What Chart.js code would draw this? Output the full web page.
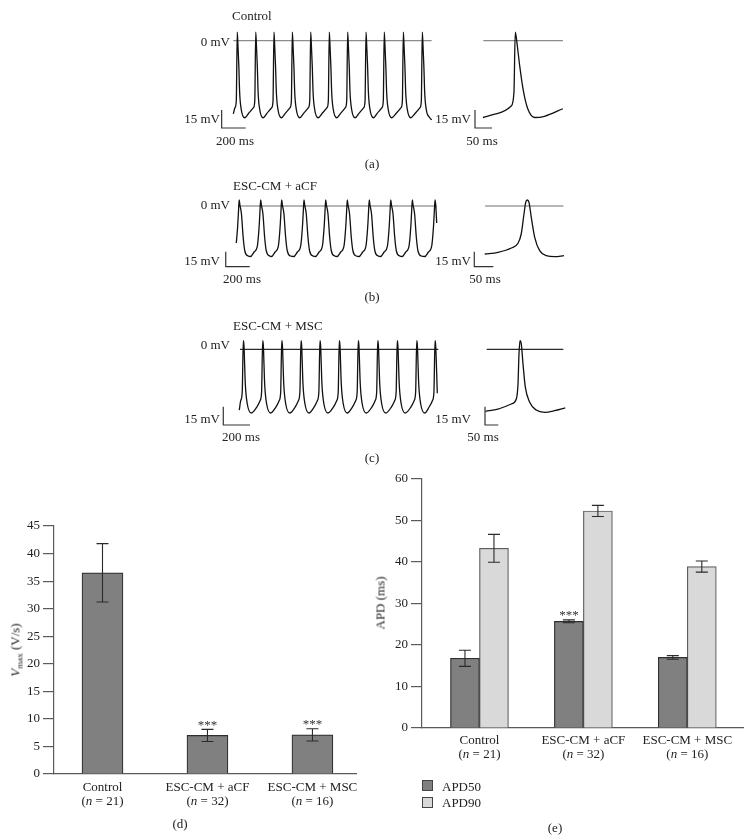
<!DOCTYPE html>
<html lang="en">
<head>
<meta charset="UTF-8">
<title>Action potentials, Vmax and APD</title>
<script src="https://cdn.jsdelivr.net/npm/chart.js"></script>
<style>
  body { margin: 0; background: #fff; }
  #fig { position: relative; width: 750px; height: 840px; overflow: hidden;
         font-family: "Liberation Serif", "DejaVu Serif", serif; color: #222; }
  #fig canvas { position: absolute; }
  .lab { position: absolute; font-size: 13px; line-height: 1; white-space: nowrap; }
  .key { position: absolute; width: 11px; height: 11px; box-sizing: border-box; border: 1px solid #444; }
</style>
</head>
<body>
<div id="fig"></div>
<script>
// ---- traces: beat shapes (ms from peak, mV) ----
const ctrlTrainMs = [-59, -19, -8, 0, 6, 13, 20, 33, 62];
const ctrlTrainMv = [-60.5, -55.8, -50, 7.2, -4.4, -21, -43.3, -57.2, -64.2];
const ctrlPeaks = [33, 187, 339, 492, 645, 800, 953, 1106, 1258, 1417, 1575];
const ctrlEnds = [[0, -61], [1653, -66]];
const ctrlInsetMs = [-95, -51, -12, -4, 0, 6, 13, 23, 37, 57, 86, 140];
const ctrlInsetMv = [-64, -60.5, -54.4, -43.3, 7.2, -4.4, -21, -40.5, -57, -64, -63, -56.7];

const acfTrainMs = [-85, -55, -27.5, -13, -6, 0, 6, 19, 33, 47, 75];
const acfTrainMv = [-50.5, -46, -40, -21, -6, 6, 1, -8, -31, -45, -50];
const acfPeaks = [24, 203, 378, 564, 745, 925, 1108, 1287, 1467, 1656];
const acfEnds = [[0, -37], [1670, -17]];
const acfInsetMs = [-112, -77, -42, -24.5, -16, -8.7, -4.2, 0, 4.5, 10.5, 19.5, 32.6, 50, 72, 96.6];
const acfInsetMv = [-48, -46.3, -42, -37.3, -28, -8, 3.7, 6, 3.7, -11.3, -31.3, -44.7, -49.7, -50.7, -49.7];

const mscTrainMs = [-45, -19.5, -8, 0, 5, 15, 30, 60];
const mscTrainMv = [-47.5, -42.1, -35, 7, 3, -28.4, -44.8, -52.2];
const mscPeaks = [30, 175, 318, 462, 604, 749, 891, 1037, 1183, 1329, 1466];
const mscEnds = [[0, -49.8], [1483, -36]];
const mscInsetMs = [-130, -83, -33, -14, -7.5, -3.8, 0, 4.9, 11.3, 20, 36.5, 61, 93, 130, 170];
const mscInsetMv = [-50.8, -49, -44.8, -40.7, -28.4, -3.9, 7, 4.3, -12, -31, -43.4, -49.8, -51.6, -50.3, -48];

// calibration bars
const barMv = 15;
const trainBarMs = 200;
const insetBarMs = 50;

// ---- bar charts ----
const groups = ['Control', 'ESC-CM + aCF', 'ESC-CM + MSC'];
const groupN = [21, 32, 16];
const vmax = [36.5, 7.0, 7.1];
const vmaxErr = [5.3, 1.1, 1.1];
const vmaxStars = ['', '***', '***'];
const vmaxTicks = [0, 5, 10, 15, 20, 25, 30, 35, 40, 45];
const apd50 = [16.8, 25.7, 17.0];
const apd50Err = [1.95, 0.35, 0.45];
const apd50Stars = ['', '***', ''];
const apd90 = [43.3, 52.3, 38.9];
const apd90Err = [3.35, 1.35, 1.35];
const apdTicks = [0, 10, 20, 30, 40, 50, 60];

Chart.defaults.font.family = '"Liberation Serif", "DejaVu Serif", serif';
const fig = document.getElementById('fig');

function addCanvas(b) {
  const c = document.createElement('canvas');
  c.width = b.w; c.height = b.h;
  c.style.left = b.x + 'px'; c.style.top = b.y + 'px';
  fig.appendChild(c);
  return c;
}

function buildTrain(peaks, beatMs, beatMv, ends) {
  const pts = [{x: ends[0][0], y: ends[0][1]}];
  peaks.forEach((p, i) => {
    const gPrev = i > 0 ? p - peaks[i - 1] : peaks[1] - peaks[0];
    const gNext = i < peaks.length - 1 ? peaks[i + 1] - p : gPrev;
    beatMs.forEach((o, k) => {
      const t = p + o;
      if (o > -gPrev / 2 && o <= gNext / 2 && t > ends[0][0] && t < ends[1][0]) {
        pts.push({x: t, y: beatMv[k]});
      }
    });
  });
  pts.push({x: ends[1][0], y: ends[1][1]});
  return pts;
}

function zip(xs, ys) { return xs.map((x, i) => ({x: x, y: ys[i]})); }

function traceChart(box, xr, yr, pts, zero, zeroColor, bar, barMs) {
  return new Chart(addCanvas(box), {
    type: 'line',
    data: {
      datasets: [
        { data: pts, borderColor: '#111', borderWidth: 1.3, cubicInterpolationMode: 'monotone' },
        { data: [{x: zero[0], y: 0}, {x: zero[1], y: 0}], borderColor: zeroColor, borderWidth: 1.2 },
        { data: [{x: bar[0], y: bar[1] + barMv}, {x: bar[0], y: bar[1]}, {x: bar[0] + barMs, y: bar[1]}],
          borderColor: '#333', borderWidth: 1.2 }
      ]
    },
    options: {
      responsive: false, animation: false, events: [],
      layout: { padding: 0 },
      elements: { point: { radius: 0 } },
      plugins: { legend: { display: false }, tooltip: { enabled: false } },
      scales: {
        x: { type: 'linear', display: false, min: xr[0], max: xr[1] },
        y: { type: 'linear', display: false, min: yr[0], max: yr[1] }
      }
    }
  });
}

// rows: a, b, c
const rows = [
  { train: {x: 200, y: 20, w: 240, h: 120}, tx: [-277.5, 1722.5],
    inset: {x: 460, y: 20, w: 110, h: 120}, ix: [-162.6, 160.9], y: [-82.75, 17.25],
    tz: [0, 1653], iz: [-94, 140], zc: '#8c8c8c', tb: [-97, -72.75], ib: [-118.5, -72.75],
    pts: buildTrain(ctrlPeaks, ctrlTrainMs, ctrlTrainMv, ctrlEnds), ins: zip(ctrlInsetMs, ctrlInsetMv) },
  { train: {x: 200, y: 188, w: 240, h: 90}, tx: [-302.5, 1697.5],
    inset: {x: 460, y: 188, w: 110, h: 90}, ix: [-177.1, 112.4], y: [-72, 18],
    tz: [17, 1670], iz: [-111, 95], zc: '#6e6e6e', tb: [-88, -60.7], ib: [-139.5, -60.7],
    pts: buildTrain(acfPeaks, acfTrainMs, acfTrainMv, acfEnds), ins: zip(acfInsetMs, acfInsetMv) },
  { train: {x: 200, y: 330, w: 240, h: 105}, tx: [-294.4, 1503.4],
    inset: {x: 460, y: 330, w: 110, h: 105}, ix: [-225.6, 188], y: [-70.2, 15.8],
    tz: [5, 1491], iz: [-125, 163], zc: '#2a2a2a', tb: [-120, -62], ib: [-131.6, -62],
    pts: buildTrain(mscPeaks, mscTrainMs, mscTrainMv, mscEnds), ins: zip(mscInsetMs, mscInsetMv) }
];

rows.forEach(r => {
  traceChart(r.train, r.tx, r.y, r.pts, r.tz, r.zc, r.tb, trainBarMs);
  traceChart(r.inset, r.ix, r.y, r.ins, r.iz, r.zc, r.ib, insetBarMs);
});

// error bars, stars and two-line category labels
const barExtras = {
  id: 'barExtras',
  afterDatasetsDraw(chart) {
    const ctx = chart.ctx, y = chart.scales.y;
    ctx.save();
    chart.data.datasets.forEach((ds, di) => {
      chart.getDatasetMeta(di).data.forEach((el, i) => {
        const v = ds.data[i].y, e = ds.errors[i];
        const top = y.getPixelForValue(v + e), bot = y.getPixelForValue(v - e);
        ctx.strokeStyle = '#2a2a2a';
        ctx.lineWidth = 1.1;
        ctx.beginPath();
        ctx.moveTo(el.x, top); ctx.lineTo(el.x, bot);
        ctx.moveTo(el.x - 6, top); ctx.lineTo(el.x + 6, top);
        ctx.moveTo(el.x - 6, bot); ctx.lineTo(el.x + 6, bot);
        ctx.stroke();
        if (ds.stars && ds.stars[i]) {
          ctx.fillStyle = '#333';
          ctx.font = '13px "Liberation Serif"';
          ctx.textAlign = 'center';
          ctx.textBaseline = 'alphabetic';
          ctx.fillText(ds.stars[i], el.x, top - 0.5);
        }
      });
    });
    ctx.restore();
  },
  afterDraw(chart, args, opts) {
    const ctx = chart.ctx, x = chart.scales.x, base = chart.chartArea.bottom;
    const norm = '13px "Liberation Serif"', ital = 'italic 13px "Liberation Serif"';
    ctx.save();
    ctx.fillStyle = '#222';
    ctx.textBaseline = 'middle';
    groups.forEach((g, i) => {
      const cx = x.getPixelForValue(i);
      ctx.font = norm;
      ctx.textAlign = 'center';
      ctx.fillText(g, cx, base + opts.dy[0]);
      const parts = [['(', norm], ['n', ital], [' = ' + groupN[i] + ')', norm]];
      let w = 0;
      parts.forEach(p => { ctx.font = p[1]; w += ctx.measureText(p[0]).width; });
      let px = cx - w / 2;
      ctx.textAlign = 'left';
      parts.forEach(p => { ctx.font = p[1]; ctx.fillText(p[0], px, base + opts.dy[1]); px += ctx.measureText(p[0]).width; });
    });
    ctx.restore();
  }
};

function barChart(box, pad, yW, xH, xr, ticks, datasets, dy) {
  return new Chart(addCanvas(box), {
    type: 'bar',
    data: { datasets: datasets },
    options: {
      responsive: false, animation: false, events: [],
      layout: { padding: pad },
      plugins: { legend: { display: false }, tooltip: { enabled: false }, barExtras: { dy: dy } },
      scales: {
        x: { type: 'linear', offset: false, min: xr[0], max: xr[1],
             ticks: { display: false }, grid: { display: false, offset: false },
             border: { color: '#5a5a5a', width: 1.2 },
             afterFit: s => { s.height = xH; } },
        y: { min: ticks[0], max: ticks[ticks.length - 1],
             afterBuildTicks: s => { s.ticks = ticks.map(v => ({value: v})); },
             ticks: { color: '#222', padding: 3, font: { size: 13 } },
             grid: { drawOnChartArea: false, tickLength: 11, color: '#5a5a5a', lineWidth: 1.2 },
             border: { color: '#5a5a5a', width: 1.2 },
             afterFit: s => { s.width = yW; } }
      }
    },
    plugins: [barExtras]
  });
}

// (d) Vmax
barChart({x: 0, y: 500, w: 370, h: 340}, {top: 26, right: 14, left: 0, bottom: 0}, 54, 66,
  [-0.462, 2.415], vmaxTicks,
  [{ data: zip([0, 1, 2], vmax), backgroundColor: '#808080', borderColor: '#2e2e2e', borderWidth: 1.2,
     barThickness: 41, errors: vmaxErr, stars: vmaxStars }],
  [13.5, 27.5]);

// (e) APD
barChart({x: 370, y: 460, w: 380, h: 380}, {top: 19, right: 7, left: 0, bottom: 0}, 52, 112,
  [-0.553, 2.536], apdTicks,
  [{ data: zip([0, 1, 2], apd50), backgroundColor: '#808080', borderColor: '#2e2e2e', borderWidth: 1.2,
     barThickness: 29, errors: apd50Err, stars: apd50Stars },
   { data: zip([0, 1, 2], apd90), backgroundColor: '#d9d9d9', borderColor: '#5e5e5e', borderWidth: 1.2,
     barThickness: 29, errors: apd90Err }],
  [12.5, 26.5]);

// text labels
const labels = [
  ['Control', 232, 15, 'l'], ['0 mV', 230, 41, 'r'], ['15 mV', 220, 118, 'r'], ['200 ms', 235, 140, 'c'],
  ['15 mV', 471, 118, 'r'], ['50 ms', 482, 140, 'c'], ['(a)', 372, 163, 'c'],
  ['ESC-CM + aCF', 233, 185, 'l'], ['0 mV', 230, 204, 'r'], ['15 mV', 220, 260, 'r'], ['200 ms', 242, 278, 'c'],
  ['15 mV', 471, 260, 'r'], ['50 ms', 485, 278, 'c'], ['(b)', 372, 296, 'c'],
  ['ESC-CM + MSC', 233, 325, 'l'], ['0 mV', 230, 344, 'r'], ['15 mV', 220, 418, 'r'], ['200 ms', 241, 436, 'c'],
  ['15 mV', 471, 418, 'r'], ['50 ms', 483, 436, 'c'], ['(c)', 372, 457, 'c'],
  ['(d)', 180, 823, 'c'], ['(e)', 555, 827, 'c'],
  ['APD50', 442, 786, 'l'], ['APD90', 442, 802, 'l']
];
const shift = { l: 'translate(0,-50%)', r: 'translate(-100%,-50%)', c: 'translate(-50%,-50%)' };
labels.forEach(l => {
  const d = document.createElement('div');
  d.className = 'lab';
  d.textContent = l[0];
  d.style.left = l[1] + 'px'; d.style.top = l[2] + 'px';
  d.style.transform = shift[l[3]];
  fig.appendChild(d);
});

function rotLabel(html, x, y) {
  const d = document.createElement('div');
  d.className = 'lab';
  d.innerHTML = html;
  d.style.left = x + 'px'; d.style.top = y + 'px';
  d.style.transform = 'translate(-50%,-50%) rotate(-90deg)';
  fig.appendChild(d);
}
rotLabel('<i>V</i><span style="font-size:9px;position:relative;top:3px">max</span> (V/s)', 15, 650);
rotLabel('APD (ms)', 380, 603);

[['#808080', 780], ['#d9d9d9', 797]].forEach(k => {
  const d = document.createElement('div');
  d.className = 'key';
  d.style.left = '422px'; d.style.top = k[1] + 'px';
  d.style.background = k[0];
  fig.appendChild(d);
});
</script>
</body>
</html>
